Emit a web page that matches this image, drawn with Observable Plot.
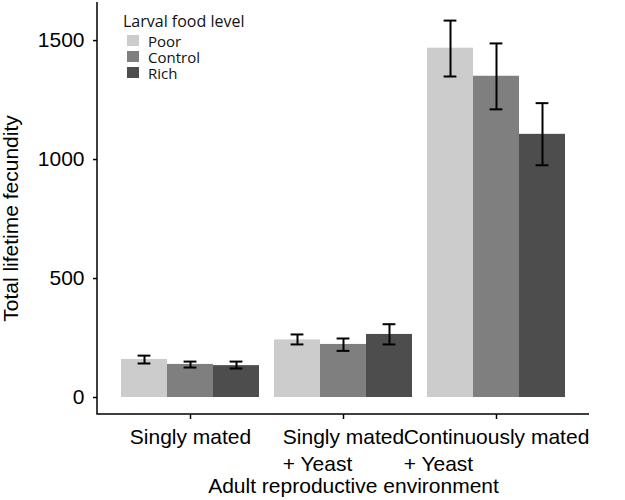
<!DOCTYPE html>
<html>
<head>
<meta charset="utf-8">
<script src="https://cdn.jsdelivr.net/npm/d3@7"></script>
<script src="https://cdn.jsdelivr.net/npm/@observablehq/plot@0.6"></script>
<style>
  html, body { margin: 0; padding: 0; background: #fff; }
  #wrap { position: relative; width: 625px; height: 500px; }
  #legend { position: absolute; left: 123px; top: 11px; font-family: "Open Sans", sans-serif; font-size: 15px; color: #111; }
  #legend .title { font-size: 16px; line-height: 20px; margin-bottom: 1.5px; }
  #legend .row { display: flex; align-items: center; height: 16px; }
  #legend .row span { line-height: 15px; display: inline-block; height: 15px; padding-top: 1px; }
  #legend .sw { width: 12px; height: 11px; margin-left: 4px; margin-right: 9px; }
</style>
</head>
<body>
<div id="wrap"><div id="legend"></div></div>
<script>
// ---- data ----
const groups = ["Singly mated", "Singly mated\n+ Yeast", "Continuously mated\n+ Yeast"];
const levels = ["Poor", "Control", "Rich"];
const colors = ["#cccccc", "#7f7f7f", "#4d4d4d"];
const meanPoor    = [160, 242, 1468];
const meanControl = [139, 223, 1350];
const meanRich    = [134, 265, 1106];
const lowPoor     = [143, 223, 1349];
const highPoor    = [176, 265, 1584];
const lowControl  = [126, 196, 1211];
const highControl = [151, 248, 1488];
const lowRich     = [122, 223, 976];
const highRich    = [151, 308, 1237];
const yTicks = [0, 500, 1000, 1500];
const yLabel = "Total lifetime fecundity";
const xLabel = "Adult reproductive environment";
const legendTitle = "Larval food level";

const series = [
  {level: "Poor", mean: meanPoor, lo: lowPoor, hi: highPoor},
  {level: "Control", mean: meanControl, lo: lowControl, hi: highControl},
  {level: "Rich", mean: meanRich, lo: lowRich, hi: highRich}
];
const data = [];
groups.forEach((g, i) => series.forEach(s => data.push({group: g, level: s.level, mean: s.mean[i], lo: s.lo[i], hi: s.hi[i]})));

const font = "'Liberation Sans', Arial, Helvetica, sans-serif";

const plot = Plot.plot({
  width: 625,
  height: 500,
  marginLeft: 97,
  marginRight: 36,
  marginTop: 2,
  marginBottom: 86,
  style: {fontFamily: font, fontSize: "21px", color: "#000", background: "#fff"},
  fx: {domain: groups, paddingInner: 0.1, paddingOuter: 0.1475, label: null},
  x: {domain: levels, padding: 0, axis: null},
  y: {domain: [-71.4, 1660]},
  color: {domain: levels, range: colors},
  marks: [
    Plot.barY(data, {fx: "group", x: "level", y: "mean", fill: "level"}),
    Plot.ruleX(data, {fx: "group", x: "level", y1: "lo", y2: "hi", stroke: "#000", strokeWidth: 2}),
    Plot.tickY(data, {fx: "group", x: "level", y: "lo", stroke: "#000", strokeWidth: 2, insetLeft: 16.6, insetRight: 16.6}),
    Plot.tickY(data, {fx: "group", x: "level", y: "hi", stroke: "#000", strokeWidth: 2, insetLeft: 16.6, insetRight: 16.6}),
    Plot.axisY({ticks: yTicks, tickFormat: d => String(d), tickSize: 4, tickPadding: 9, label: yLabel, labelAnchor: "center", labelArrow: "none", labelOffset: 94, strokeWidth: 1.5}),
    Plot.axisFx({anchor: "bottom", tickSize: 5, tickPadding: 5, lineHeight: 1.29, label: xLabel, labelAnchor: "center", labelArrow: "none", labelOffset: 78, strokeWidth: 1.5})
  ]
});
document.getElementById("wrap").prepend(plot);

const fxS = plot.scale("fx"), yS = plot.scale("y");
const svg = d3.select(plot);

// the y axis sits at the first facet's edge; move it onto the panel's edge
const shift = fxS.range[0] - fxS.apply(groups[0]);
svg.selectAll('g[aria-label="y-axis tick"], g[aria-label="y-axis tick label"], g[aria-label="y-axis label"]').each(function() {
  const t = this.getAttribute("transform") || "";
  const extra = this.getAttribute("aria-label") === "y-axis label" ? 10 : 0;
  this.setAttribute("transform", `translate(${shift},${extra}) ${t}`);
});
svg.selectAll('g[aria-label="fx-axis label"]').each(function() {
  const t = this.getAttribute("transform") || "";
  this.setAttribute("transform", `translate(10,0) ${t}`);
});

// axis lines (from the plot's own scales)
svg.append("path")
  .attr("d", `M${fxS.range[0]},${yS.range[1]}V${yS.range[0]}H${fxS.range[1]}`)
  .attr("fill", "none").attr("stroke", "#000").attr("stroke-width", 1.5);

// left-align multi-line category labels within their centered block
svg.selectAll('g[aria-label="fx-axis tick label"] text').each(function() {
  const w = this.getBBox().width;
  this.setAttribute("text-anchor", "start");
  const spans = d3.select(this).selectAll("tspan");
  if (spans.size()) spans.attr("x", -w / 2);
  else this.setAttribute("x", -w / 2);
});

// legend
const lg = d3.select("#legend");
lg.append("div").attr("class", "title").text(legendTitle);
levels.forEach((l, i) => {
  const r = lg.append("div").attr("class", "row");
  r.append("div").attr("class", "sw").style("background", colors[i]);
  r.append("span").text(l);
});
</script>
</body>
</html>
